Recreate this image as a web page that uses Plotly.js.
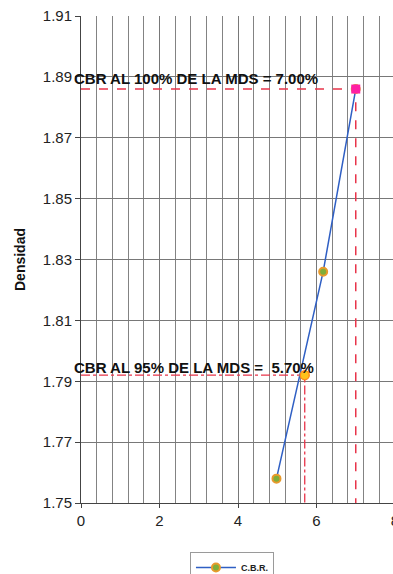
<!DOCTYPE html>
<html>
<head>
<meta charset="utf-8">
<script src="https://cdn.plot.ly/plotly-3.0.1.min.js"></script>
<style>
html,body{margin:0;padding:0;overflow:hidden;background:#fff;}
#chart{width:400px;height:574px;}
</style>
</head>
<body>
<div id="chart"></div>
<script>
// C.B.R. (%) vs dry density
const cbrValues = [4.98, 6.17, 7.0];
const densityValues = [1.758, 1.826, 1.886];
const seriesName = "C.B.R.";

// design values
const cbr100 = 7.00, mds100 = 1.886;
const cbr95 = 5.70, mds95 = 1.792;
const yMin = 1.75, yMax = 1.91;
const xMin = 0, xMax = 8;

const label100 = "CBR AL 100% DE LA MDS = 7.00%";
const label95 = "CBR AL 95% DE LA MDS =  5.70%";
const yTitle = "Densidad";

const red = "#e8344a";
const traces = [
  {x:[xMin, cbr100, cbr100], y:[mds100, mds100, yMin], mode:"lines",
   line:{color:red, width:1.5, dash:"dash"}, showlegend:false, hoverinfo:"skip"},
  {x:[xMin, cbr95, cbr95], y:[mds95, mds95, yMin], mode:"lines",
   line:{color:red, width:1.3, dash:"dashdot"}, showlegend:false, hoverinfo:"skip"},
  {x:cbrValues, y:densityValues, mode:"lines+markers", name:seriesName,
   line:{color:"#2f5fc4", width:1.5},
   marker:{symbol:"circle", size:8, color:"#7fae3a", line:{color:"#e89a2c", width:2}}},
  {x:[cbr100], y:[mds100], mode:"markers", showlegend:false,
   marker:{symbol:"square", size:9, color:"#ff1fa5", line:{color:"#ff1fa5", width:0}}},
  {x:[cbr95], y:[mds95], mode:"markers", showlegend:false,
   marker:{symbol:"circle", size:9, color:"#ffc21a", line:{color:"#ff8c1a", width:1.5}}}
];

const gridc = "#787878";
const layout = {
  width:400, height:574,
  margin:{l:81, r:5, t:16, b:71, autoexpand:false},
  paper_bgcolor:"#fff", plot_bgcolor:"#fff",
  font:{family:"Liberation Sans, Arial, sans-serif", color:"#222"},
  xaxis:{range:[xMin, xMax], dtick:2, tick0:0, showgrid:true, gridcolor:gridc, gridwidth:1,
         minor:{dtick:0.4, showgrid:true, gridcolor:"#838383", gridwidth:1},
         zeroline:false, showline:true, linecolor:"#444", linewidth:1,
         ticks:"outside", ticklen:4, tickcolor:"#444",
         tickfont:{size:15, color:"#222"}, fixedrange:true, automargin:false},
  yaxis:{range:[yMin, yMax], dtick:0.02, tick0:1.75, tickformat:".2f",
         showgrid:true, gridcolor:gridc, gridwidth:1, zeroline:false,
         showline:true, linecolor:"#444", linewidth:1,
         ticks:"outside", ticklen:5, tickcolor:"#444",
         tickfont:{size:15, color:"#222"},
         title:{text:yTitle, font:{size:14, color:"#111", weight:"bold"}, standoff:13},
         fixedrange:true, automargin:false},
  showlegend:true,
  legend:{x:0.347, y:-0.1006, xanchor:"left", yanchor:"top", orientation:"v",
          bordercolor:"#9a9a9a", borderwidth:1, bgcolor:"#fff",
          font:{size:9, color:"#222", weight:"bold"}, itemwidth:40},
  annotations:[
    {x:-0.03, y:1.8895, xref:"paper", yref:"y", xanchor:"left", yanchor:"middle",
     text:label100, showarrow:false, font:{size:15, color:"#111", weight:"bold"}},
    {x:-0.03, y:1.7944, xref:"paper", yref:"y", xanchor:"left", yanchor:"middle",
     text:label95, showarrow:false, font:{size:15, color:"#111", weight:"bold"}}
  ]
};
Plotly.newPlot("chart", traces, layout, {displayModeBar:false, staticPlot:true});
</script>
</body>
</html>
